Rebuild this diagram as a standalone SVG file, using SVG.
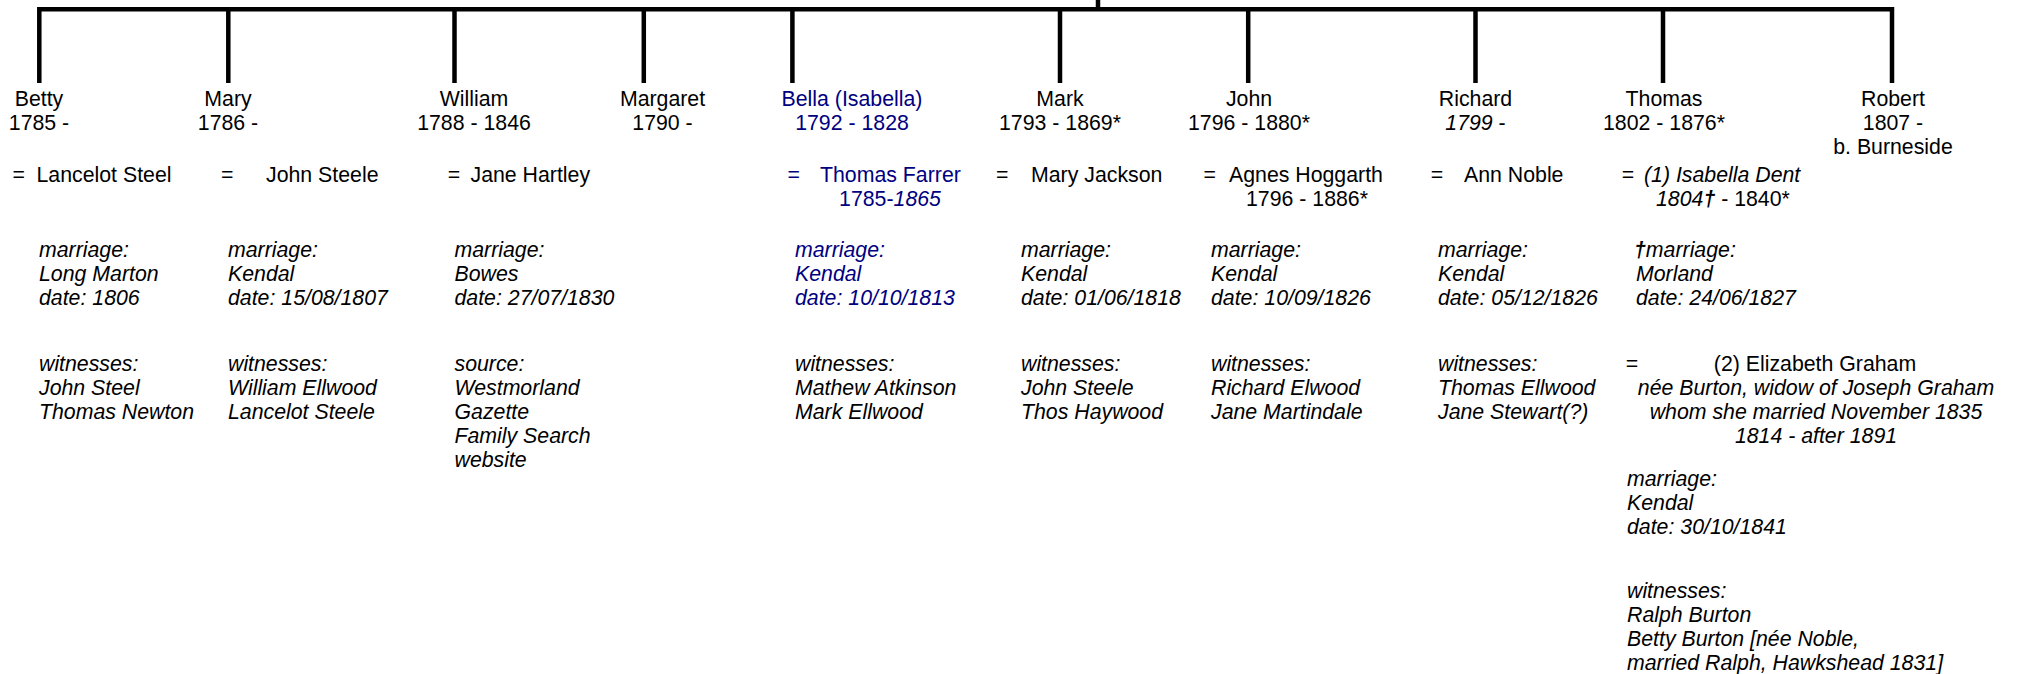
<svg xmlns="http://www.w3.org/2000/svg" width="2017" height="674" viewBox="0 0 2017 674">
<style>
text{font-family:"Liberation Sans",Arial,sans-serif;font-size:21.3px;fill:#000}
.m{text-anchor:middle}
.i{font-style:italic}
.bl{fill:#000080}
.bl tspan{fill:#000080}
.d{font-weight:bold}
.ln{fill:none;stroke:#000;stroke-width:4.5;stroke-linejoin:miter;stroke-linecap:butt}
</style>
<rect width="2017" height="674" fill="#fff"/>
<g id="connectors">
<path class="ln" d="M1098,0 V9.3"/>
<path class="ln" d="M39.3,83 V9.3 H1892 V83"/>
<path class="ln" d="M228.3,9.3 V83 M454.5,9.3 V83 M643.8,9.3 V83 M792.4,9.3 V83 M1060,9.3 V83 M1248.2,9.3 V83 M1475.5,9.3 V83 M1663,9.3 V83"/>
</g>
<g id="betty">
<text class="m" x="39" y="106">Betty</text>
<text class="m" x="39" y="130">1785 -</text>
<text x="12.4" y="182">=</text><text x="36.5" y="182">Lancelot Steel</text>
<text class="i" x="39" y="257">marriage:</text>
<text class="i" x="39" y="281">Long Marton</text>
<text class="i" x="39" y="305">date: 1806</text>
<text class="i" x="39" y="371">witnesses:</text>
<text class="i" x="39" y="395">John Steel</text>
<text class="i" x="39" y="419">Thomas Newton</text>
</g>
<g id="mary">
<text class="m" x="228" y="106">Mary</text>
<text class="m" x="228" y="130">1786 -</text>
<text x="221" y="182">=</text><text x="266" y="182">John Steele</text>
<text class="i" x="228" y="257">marriage:</text>
<text class="i" x="228" y="281">Kendal</text>
<text class="i" x="228" y="305">date: 15/08/1807</text>
<text class="i" x="228" y="371">witnesses:</text>
<text class="i" x="228" y="395">William Ellwood</text>
<text class="i" x="228" y="419">Lancelot Steele</text>
</g>
<g id="william">
<text class="m" x="474" y="106">William</text>
<text class="m" x="474" y="130">1788 - 1846</text>
<text x="447.7" y="182">=</text><text x="470.5" y="182">Jane Hartley</text>
<text class="i" x="454.5" y="257">marriage:</text>
<text class="i" x="454.5" y="281">Bowes</text>
<text class="i" x="454.5" y="305">date: 27/07/1830</text>
<text class="i" x="454.5" y="371">source:</text>
<text class="i" x="454.5" y="395">Westmorland</text>
<text class="i" x="454.5" y="419">Gazette</text>
<text class="i" x="454.5" y="443">Family Search</text>
<text class="i" x="454.5" y="467">website</text>
</g>
<g id="margaret">
<text class="m" x="662.5" y="106">Margaret</text>
<text class="m" x="662.5" y="130">1790 -</text>
</g>
<g id="bella">
<text class="m bl" x="852" y="106">Bella (Isabella)</text>
<text class="m bl" x="852" y="130">1792 - 1828</text>
<text class="bl" x="787.4" y="182">=</text><text class="bl" x="820" y="182">Thomas Farrer</text>
<text class="m bl" x="890" y="206">1785-<tspan class="i">1865</tspan></text>
<text class="i bl" x="795" y="257">marriage:</text>
<text class="i bl" x="795" y="281">Kendal</text>
<text class="i bl" x="795" y="305">date: 10/10/1813</text>
<text class="i" x="795" y="371">witnesses:</text>
<text class="i" x="795" y="395">Mathew Atkinson</text>
<text class="i" x="795" y="419">Mark Ellwood</text>
</g>
<g id="mark">
<text class="m" x="1060" y="106">Mark</text>
<text class="m" x="1060" y="130">1793 - 1869*</text>
<text x="996" y="182">=</text><text x="1031" y="182">Mary Jackson</text>
<text class="i" x="1021" y="257">marriage:</text>
<text class="i" x="1021" y="281">Kendal</text>
<text class="i" x="1021" y="305">date: 01/06/1818</text>
<text class="i" x="1021" y="371">witnesses:</text>
<text class="i" x="1021" y="395">John Steele</text>
<text class="i" x="1021" y="419">Thos Haywood</text>
</g>
<g id="john">
<text class="m" x="1249" y="106">John</text>
<text class="m" x="1249" y="130">1796 - 1880*</text>
<text x="1203.5" y="182">=</text><text x="1229" y="182">Agnes Hoggarth</text>
<text x="1246" y="206">1796 - 1886*</text>
<text class="i" x="1211" y="257">marriage:</text>
<text class="i" x="1211" y="281">Kendal</text>
<text class="i" x="1211" y="305">date: 10/09/1826</text>
<text class="i" x="1211" y="371">witnesses:</text>
<text class="i" x="1211" y="395">Richard Elwood</text>
<text class="i" x="1211" y="419">Jane Martindale</text>
</g>
<g id="richard">
<text class="m" x="1475.5" y="106">Richard</text>
<text class="m" x="1475.5" y="130"><tspan class="i">1799</tspan> -</text>
<text x="1430.7" y="182">=</text><text x="1464" y="182">Ann Noble</text>
<text class="i" x="1438" y="257">marriage:</text>
<text class="i" x="1438" y="281">Kendal</text>
<text class="i" x="1438" y="305">date: 05/12/1826</text>
<text class="i" x="1438" y="371">witnesses:</text>
<text class="i" x="1438" y="395">Thomas Ellwood</text>
<text class="i" x="1438" y="419">Jane Stewart(?)</text>
</g>
<g id="thomas">
<text class="m" x="1664" y="106">Thomas</text>
<text class="m" x="1664" y="130">1802 - 1876*</text>
<text x="1621.7" y="182">=</text><text class="i" x="1644" y="182">(1) Isabella Dent</text>
<text x="1656" y="206"><tspan class="i">1804<tspan class="d">†</tspan></tspan> - 1840*</text>
<text class="i" x="1634" y="257"><tspan class="d">†</tspan>marriage:</text>
<text class="i" x="1636" y="281">Morland</text>
<text class="i" x="1636" y="305">date: 24/06/1827</text>
<text x="1625.7" y="371">=</text>
<text class="m" x="1815" y="371">(2) Elizabeth Graham</text>
<text class="m i" x="1816" y="395">née Burton, widow of Joseph Graham</text>
<text class="m i" x="1816" y="419">whom she married November 1835</text>
<text class="m i" x="1816" y="443">1814 - after 1891</text>
<text class="i" x="1627" y="486">marriage:</text>
<text class="i" x="1627" y="510">Kendal</text>
<text class="i" x="1627" y="534">date: 30/10/1841</text>
<text class="i" x="1627" y="598">witnesses:</text>
<text class="i" x="1627" y="622">Ralph Burton</text>
<text class="i" x="1627" y="646">Betty Burton [née Noble,</text>
<text class="i" x="1627" y="670">married Ralph, Hawkshead 1831]</text>
</g>
<g id="robert">
<text class="m" x="1893" y="106">Robert</text>
<text class="m" x="1893" y="130">1807 -</text>
<text class="m" x="1893" y="154">b. Burneside</text>
</g>
</svg>
